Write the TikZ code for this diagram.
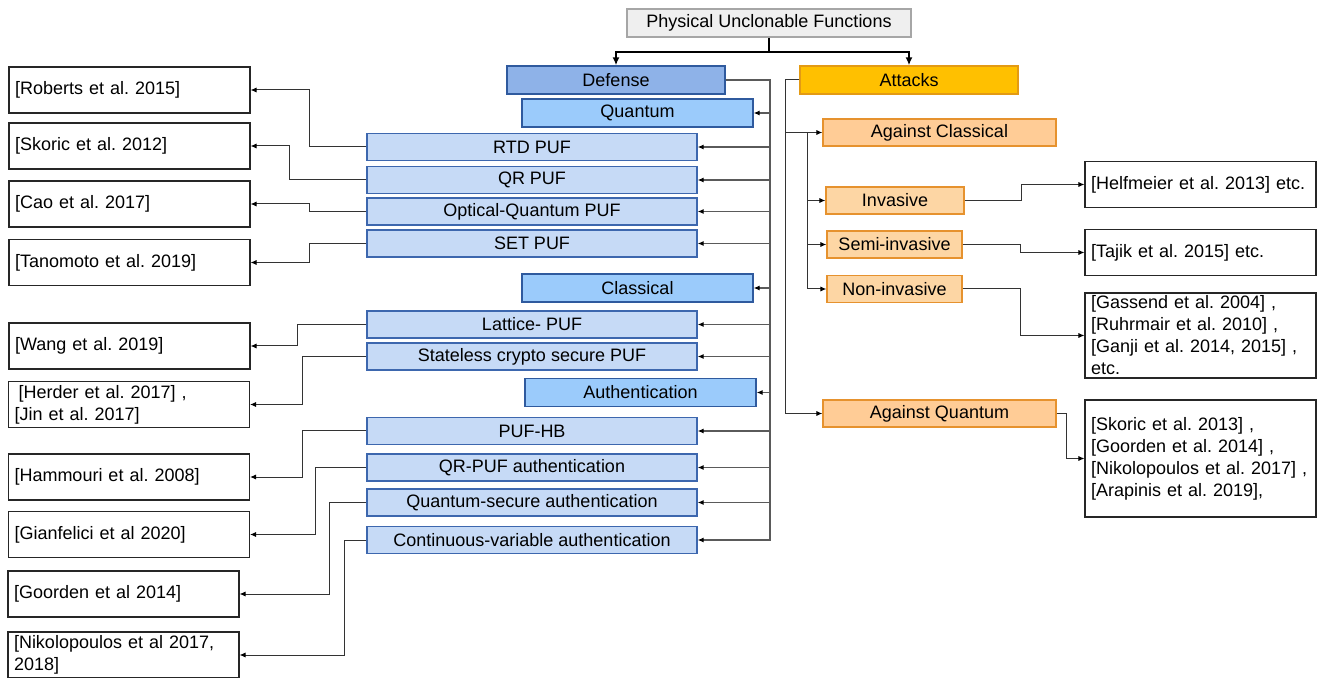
\documentclass[tikz,border=0pt]{standalone}
\usepackage{fontspec}
\setmainfont{Liberation Sans}
\usetikzlibrary{arrows.meta}
\frenchspacing
\definecolor{titlefill}{HTML}{EFEFEF}
\definecolor{titledraw}{HTML}{A6A6A6}
\definecolor{deffill}{HTML}{8EB2E8}
\definecolor{defdraw}{HTML}{2F5A9E}
\definecolor{catfill}{HTML}{9BCBFB}
\definecolor{itemfill}{HTML}{C6DAF6}
\definecolor{itemdraw}{HTML}{3D67AE}
\definecolor{attfill}{HTML}{FFC000}
\definecolor{attdraw}{HTML}{E39A14}
\definecolor{agfill}{HTML}{FFCC96}
\definecolor{agdraw}{HTML}{E6922E}
\definecolor{kindfill}{HTML}{FDD6A4}
\definecolor{busgray}{HTML}{5A5A5A}

\begin{document}
\begin{tikzpicture}[x=0.5pt,y=-0.5pt,
                    font=\fontsize{9}{11}\selectfont,
                    box/.style={draw,line width=0.65pt,inner sep=1pt,minimum height=13.5pt},
                    top node/.style={box,fill=titlefill,draw=titledraw,line width=1pt,minimum width=142pt,minimum height=14pt},
                    def node/.style={box,fill=deffill,draw=defdraw,minimum width=109pt,minimum height=14pt},
                    cat node/.style={box,fill=catfill,draw=defdraw,minimum width=115.5pt,minimum height=14pt},
                    item node/.style={box,fill=itemfill,draw=itemdraw,minimum width=165pt},
                    att node/.style={box,fill=attfill,draw=attdraw,minimum width=109pt,minimum height=14pt},
                    against node/.style={box,fill=agfill,draw=agdraw,minimum width=116.5pt},
                    kind node/.style={box,fill=kindfill,draw=agdraw,minimum width=67.5pt},
                    ref node/.style={draw=black!85,line width=0.55pt,fill=white,align=left,inner xsep=3pt,inner ysep=1pt,text width=109.5pt,minimum height=23pt},
                    wide ref/.style={ref node,text width=114.5pt},
                    main arrow/.style={line width=1pt,-{Latex[length=4pt,width=3.5pt]}},
                    bus/.style={draw=busgray,line width=0.6pt,-{Latex[length=3pt,width=2.6pt,color=black]}},
                    link/.style={draw=black!80,line width=0.5pt,-{Latex[length=3pt,width=2.6pt,color=black]}}]
  \useasboundingbox (0,0) rectangle (1317,678);
  % top
  \node[top node] (puf) at (769,23) {Physical Unclonable Functions};
  \node[def node] (def) at (616,80) {Defense};
  \node[att node] (att) at (909,80) {Attacks};
  % defense side
  \node[cat node] (q) at (637.5,113) {Quantum};
  \node[item node] (q1) at (532,147) {RTD PUF};
  \node[item node] (q2) at (532,180) {QR PUF};
  \node[item node] (q3) at (532,211.5) {Optical-Quantum PUF};
  \node[item node] (q4) at (532,243.5) {SET PUF};
  \node[cat node] (c) at (637.5,288) {Classical};
  \node[item node] (c1) at (532,324.5) {Lattice- PUF};
  \node[item node] (c2) at (532,356.5) {Stateless crypto secure PUF};
  \node[cat node] (a) at (640.5,392.5) {Authentication};
  \node[item node] (a1) at (532,431) {PUF-HB};
  \node[item node] (a2) at (532,467.5) {QR-PUF authentication};
  \node[item node] (a3) at (532,502.5) {Quantum-secure authentication};
  \node[item node] (a4) at (532,540) {Continuous-variable authentication};
  % references, left
  \node[wide ref] (r1) at (129.5,90) {[Roberts et al. 2015]};
  \node[wide ref] (r2) at (129.5,146) {[Skoric et al. 2012]};
  \node[wide ref] (r3) at (129.5,204) {[Cao et al. 2017]};
  \node[wide ref] (r4) at (129.5,262.5) {[Tanomoto et al. 2019]};
  \node[wide ref] (r5) at (129.5,346) {[Wang et al. 2019]};
  \node[wide ref] (r6) at (129,404.5) {\hspace{2pt}[Herder et al. 2017] ,\\{}[Jin et al. 2017]};
  \node[wide ref] (r7) at (129,477) {[Hammouri et al. 2008]};
  \node[wide ref] (r8) at (129,534.5) {[Gianfelici et al 2020]};
  \node[ref node] (r9) at (123.5,594) {[Goorden et al 2014]};
  \node[ref node] (r10) at (123.5,655) {[Nikolopoulos et al 2017,\\ 2018]};
  % attack side
  \node[against node] (ac) at (939.5,132.5) {Against Classical};
  \node[kind node,minimum width=69pt] (k1) at (895,200.5) {Invasive};
  \node[kind node] (k2) at (894.5,244.5) {Semi-invasive};
  \node[kind node] (k3) at (894.5,289) {Non-invasive};
  \node[against node] (aq) at (939.5,413.5) {Against Quantum};
  \node[ref node] (s1) at (1200.5,184.5) {[Helfmeier et al. 2013] etc.};
  \node[ref node] (s2) at (1200.5,252.5) {[Tajik et al. 2015] etc.};
  \node[ref node,minimum height=42.5pt] (s3) at (1200.5,335.5) {[Gassend et al. 2004] ,\\{}[Ruhrmair et al. 2010] ,\\{}[Ganji et al. 2014, 2015] ,\\ etc.};
  \node[ref node,minimum height=58.5pt] (s4) at (1200.5,458.5) {[Skoric et al. 2013] ,\\{}[Goorden et al. 2014] ,\\{}[Nikolopoulos et al. 2017] ,\\{}[Arapinis et al. 2019],};

  \draw[main arrow] (puf.south) -- ++(0,14) -| (def.north);
  \draw[main arrow] (puf.south) -- ++(0,14) -| (att.north);

  \coordinate (dbus) at (770,80);
  \foreach \n in {q,q1,q2,q3,q4,c,c1,c2,a,a1,a2,a3,a4}
    \draw[bus] (def.east) -- (dbus) |- (\n.east);

  \draw[link] (q1.west) -- ++(-57,0) |- (r1.east);
  \draw[link] (q2.west) -- ++(-77,0) |- (r2.east);
  \draw[link] (q3.west) -- ++(-57,0) |- (r3.east);
  \draw[link] (q4.west) -- ++(-57,0) |- (r4.east);
  \draw[link] (c1.west) -- ++(-69,0) |- (r5.east);
  \draw[link] (c2.west) -- ++(-64,0) |- (r6.east);
  \draw[link] (a1.west) -- ++(-64,0) |- (r7.east);
  \draw[link] (a2.west) -- ++(-51,0) |- (r8.east);
  \draw[link] (a3.west) -- ++(-37,0) |- (r9.east);
  \draw[link] (a4.west) -- ++(-22,0) |- (r10.east);

  \coordinate (abus) at (785,80);
  \draw[link] (att.west) -- (abus) |- (ac.west);
  \draw[link] (att.west) -- (abus) |- (aq.west);
  \coordinate (cbus) at (807,132.5);
  \foreach \n in {k1,k2,k3}
    \draw[link] (cbus) |- (\n.west);

  \draw[link] (k1.east) -- ++(57,0) |- (s1.west);
  \draw[link] (k2.east) -- ++(58,0) |- (s2.west);
  \draw[link] (k3.east) -- ++(58,0) |- (s3.west);
  \draw[link] (aq.east) -- ++(10,0) |- (s4.west);
\end{tikzpicture}
\end{document}
